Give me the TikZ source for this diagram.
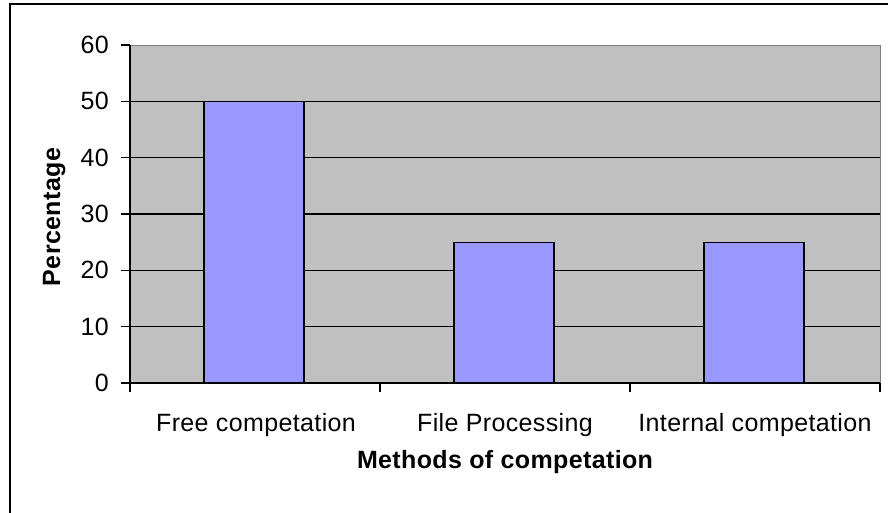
\documentclass[tikz,border=0pt]{standalone}
\usepackage{fontspec}
\setmainfont{Liberation Sans}[LetterSpace=1.5]
\definecolor{plotgray}{HTML}{C0C0C0}
\definecolor{barblue}{HTML}{9999FF}
\definecolor{edgegray}{HTML}{808080}
\begin{document}
\begin{tikzpicture}[x=1pt,y=-1pt,
  lbl/.style={inner sep=0pt,font=\fontsize{25}{29}\selectfont},
  ttl/.style={inner sep=0pt,font=\fontsize{25}{29}\selectfont\bfseries},
  grid/.style={line width=1.3pt,black},
  axis/.style={line width=1.5pt,black},
  bar/.style={fill=barblue,draw=black,line width=1.5pt}]
\useasboundingbox (0,0) rectangle (888,512);
\fill[white] (0,0) rectangle (888,512);
\begin{scope}
\clip (0,0) rectangle (888,512);
\draw[line width=2.8pt] (10,4) rectangle (900,530);
\end{scope}
% plot area
\fill[plotgray] (130,45) rectangle (880,383);
\draw[edgegray,line width=1pt] (130,45) -- (880,45) -- (880,383);
\foreach \v in {1,...,5}{
  \draw[grid] (130,{383-56.33*\v}) -- (880,{383-56.33*\v});
}
% bars
\draw[bar] (204,101.7) rectangle (304,383);
\draw[bar] (454,242.5) rectangle (554,383);
\draw[bar] (704,242.5) rectangle (804,383);
% axes
\draw[axis] (130,45) -- (130,392);
\draw[axis] (121,383) -- (880,383);
\foreach \x in {380,630,880}{ \draw[axis] (\x,383) -- (\x,392); }
\foreach \v [count=\i from 0] in {0,10,20,30,40,50,60}{
  \draw[axis] (121,{383-56.33*\i}) -- (130,{383-56.33*\i});
  \node[lbl,anchor=east] (t\i) at (109,{383-56.33*\i}) {\v};
}
% category labels
\node[lbl,anchor=base] (c1) at (256,431) {Free competation};
\node[lbl,anchor=base] (c2) at (505,431) {File Processing};
\node[lbl,anchor=base] (c3) at (755,431) {Internal competation};
% axis titles
\node[ttl,anchor=base] (xt) at (505,468) {Methods of competation};
\node[ttl,anchor=base,rotate=90] (yt) at (60,217) {Percentage};
\end{tikzpicture}
\end{document}
